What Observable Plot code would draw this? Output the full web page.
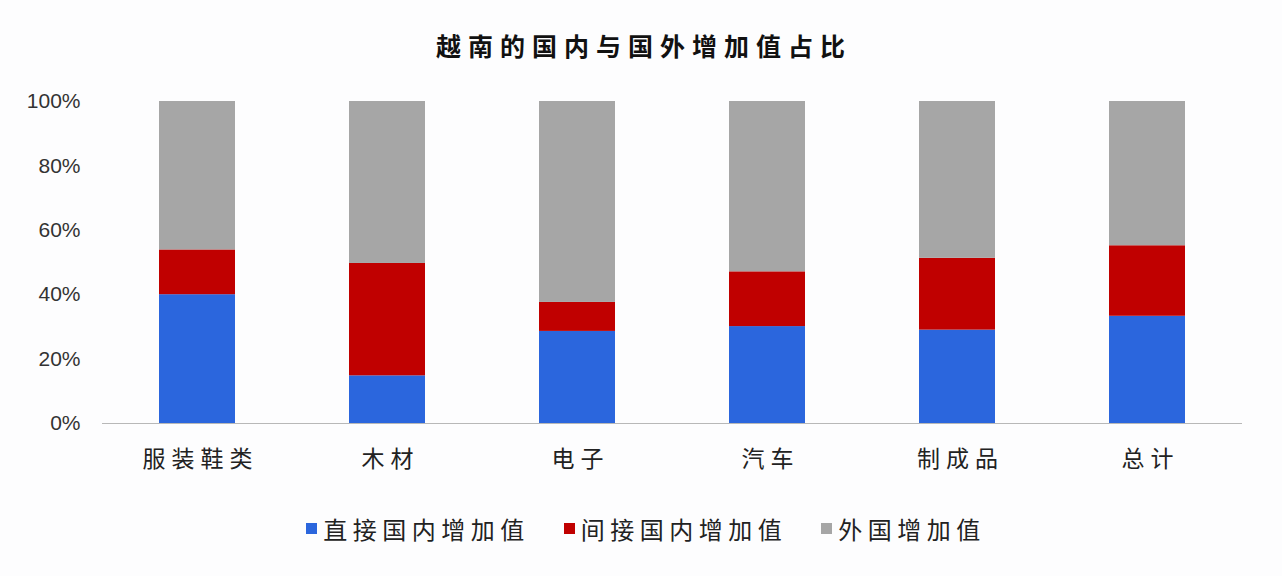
<!DOCTYPE html>
<html>
<head>
<meta charset="utf-8">
<script src="https://cdn.jsdelivr.net/npm/d3@7"></script>
<script src="https://cdn.jsdelivr.net/npm/@observablehq/plot@0.6"></script>
<style>
  html, body { margin: 0; padding: 0; background: #fdfdfe; }
  body { width: 1282px; height: 576px; overflow: hidden; font-family: "Noto Sans CJK SC", sans-serif; }
  #title { height: 70px; line-height: 90px; text-align: center; font-size: 25px; font-weight: bold; letter-spacing: 7px; color: #111; padding-left: 6px; }
  #chart svg { display: block; }
  #chart svg g[aria-label="x-axis tick label"] text { letter-spacing: 6px; }
  #legend { display: flex; justify-content: center; align-items: center; margin-top: 1px; font-size: 24px; letter-spacing: 5.5px; color: #222; padding-left: 10px; }
  .item { display: flex; align-items: center; margin: 0 17px; }
  .sw { width: 11px; height: 11px; margin-right: 6px; }
</style>
</head>
<body>
<div id="title">越南的国内与国外增加值占比</div>
<div id="chart"></div>
<div id="legend"></div>
<script>
const categories = ["服装鞋类", "木材", "电子", "汽车", "制成品", "总计"];
const series = ["直接国内增加值", "间接国内增加值", "外国增加值"];
const direct   = [40.0, 14.8, 28.6, 30.1, 29.0, 33.3];
const indirect = [13.9, 34.9, 9.0, 17.0, 22.3, 21.9];
const foreign  = [46.1, 50.3, 62.4, 52.9, 48.7, 44.8];
const yTicks = [0, 20, 40, 60, 80, 100];
const colors = ["#2b66dd", "#c00000", "#a6a6a6"];

const values = [direct, indirect, foreign];
const data = [];
categories.forEach((c, i) => {
  series.forEach((s, j) => data.push({category: c, series: s, value: values[j][i]}));
});

const chart = Plot.plot({
  width: 1282,
  height: 440,
  marginTop: 31,
  marginBottom: 87,
  marginLeft: 102,
  marginRight: 40,
  style: {background: "transparent", fontFamily: "'Noto Sans CJK SC', sans-serif"},
  x: {domain: categories, paddingInner: 0.6, paddingOuter: 0.3, label: null, tickSize: 0},
  y: {domain: [0, 100], ticks: yTicks, label: null, tickSize: 0},
  color: {domain: series, range: colors},
  marks: [
    Plot.barY(data, Plot.stackY({order: series}, {x: "category", y: "value", fill: "series"})),
    Plot.ruleY([0], {stroke: "#b8b8b8", strokeWidth: 1}),
    Plot.axisY({ticks: yTicks, tickSize: 0, tickPadding: 22, tickFormat: d => d + "%", fontSize: 21, fill: "#333", fontFamily: "'Liberation Sans', Arial, sans-serif", label: null}),
    Plot.axisX({tickSize: 0, tickPadding: 27, fontSize: 23, dx: 3, fill: "#222", label: null})
  ]
});
document.getElementById("chart").appendChild(chart);

const legend = document.getElementById("legend");
series.forEach((s, j) => {
  const it = document.createElement("div");
  it.className = "item";
  const sw = document.createElement("div");
  sw.className = "sw";
  sw.style.background = colors[j];
  const t = document.createElement("span");
  t.textContent = s;
  it.appendChild(sw); it.appendChild(t);
  legend.appendChild(it);
});
</script>
</body>
</html>
